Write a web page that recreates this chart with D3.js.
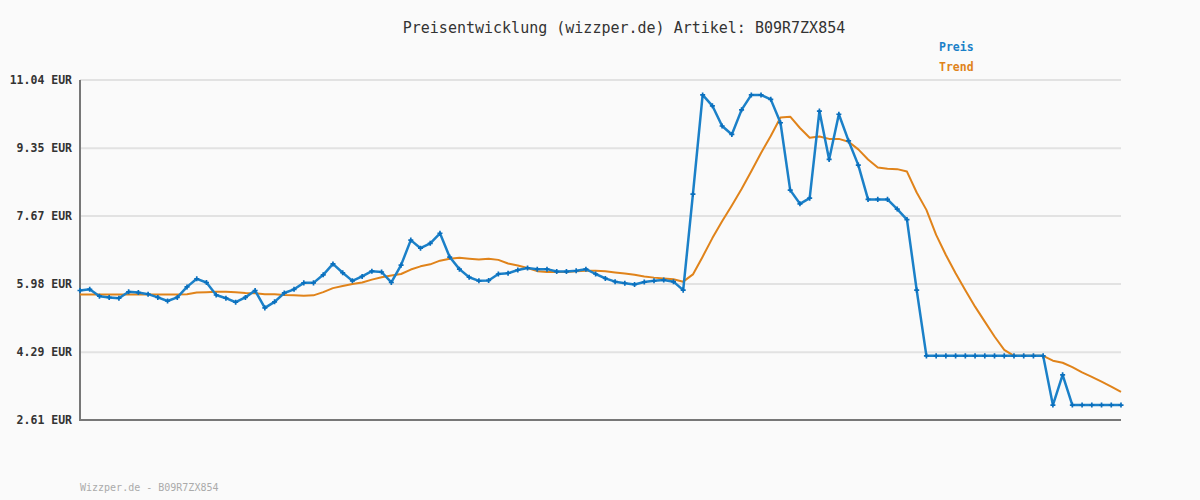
<!DOCTYPE html>
<html>
<head>
<meta charset="utf-8">
<script src="https://cdn.jsdelivr.net/npm/d3@7/dist/d3.min.js"></script>
<style>
  html, body { margin: 0; padding: 0; background: #fafafa; }
  svg { display: block; }
</style>
</head>
<body>
<div id="chart"></div>
<script>
// ---- data ----
const title = "Preisentwicklung (wizzper.de) Artikel: B09R7ZX854";
const footer = "Wizzper.de - B09R7ZX854";
const seriesNames = ["Preis", "Trend"];
const yTicks = [2.61, 4.29, 5.98, 7.67, 9.35, 11.04];

const preis = [
  5.82, 5.85, 5.68, 5.65, 5.63, 5.79, 5.77, 5.73, 5.65, 5.56,
  5.65, 5.91, 6.11, 6.02, 5.71, 5.63, 5.53, 5.65, 5.82, 5.39,
  5.54, 5.76, 5.85, 6.01, 6.01, 6.21, 6.48, 6.26, 6.06, 6.17,
  6.30, 6.28, 6.02, 6.45, 7.07, 6.87, 6.99, 7.24, 6.65, 6.35,
  6.15, 6.06, 6.07, 6.23, 6.25, 6.33, 6.38, 6.35, 6.35, 6.29,
  6.29, 6.31, 6.35, 6.23, 6.12, 6.04, 6.00, 5.97, 6.03, 6.06,
  6.08, 6.04, 5.83, 8.21, 10.67, 10.40, 9.90, 9.69, 10.30, 10.67,
  10.67, 10.56, 9.98, 8.31, 7.97, 8.11, 10.27, 9.07, 10.19, 9.53,
  8.93, 8.08, 8.08, 8.08, 7.84, 7.58, 5.83, 4.20, 4.20, 4.20,
  4.20, 4.20, 4.20, 4.20, 4.20, 4.20, 4.20, 4.20, 4.20, 4.20,
  2.98, 3.73, 2.98, 2.98, 2.98, 2.98, 2.98, 2.98
];

const trend = [
  5.72, 5.72, 5.72, 5.72, 5.72, 5.72, 5.72, 5.72, 5.72, 5.72,
  5.72, 5.73, 5.77, 5.78, 5.79, 5.79, 5.78, 5.76, 5.75, 5.73,
  5.73, 5.71, 5.70, 5.69, 5.70, 5.78, 5.88, 5.93, 5.98, 6.02,
  6.09, 6.15, 6.19, 6.23, 6.34, 6.42, 6.47, 6.56, 6.61, 6.63,
  6.61, 6.59, 6.61, 6.58, 6.49, 6.44, 6.38, 6.30, 6.28, 6.28,
  6.28, 6.30, 6.31, 6.31, 6.30, 6.27, 6.24, 6.21, 6.17, 6.14,
  6.12, 6.10, 6.04, 6.22, 6.66, 7.12, 7.54, 7.93, 8.34, 8.78,
  9.23, 9.65, 10.11, 10.13, 9.85, 9.61, 9.64, 9.58, 9.58, 9.51,
  9.32, 9.07, 8.87, 8.84, 8.83, 8.77, 8.25, 7.82, 7.20, 6.70,
  6.25, 5.83, 5.42, 5.05, 4.68, 4.35, 4.20, 4.20, 4.20, 4.20,
  4.08, 4.03, 3.92, 3.79, 3.68, 3.56, 3.44, 3.31
];

// ---- layout ----
const W = 1200, H = 500;
const margin = { left: 80, right: 79, top: 80, bottom: 80 };
const blue = "#1b80c8", blueDark = "#0a6fbd", orange = "#e0831a";
const mono = "'DejaVu Sans Mono', 'Liberation Mono', monospace";

const svg = d3.select("#chart").append("svg")
  .attr("width", W).attr("height", H);

svg.append("rect").attr("width", W).attr("height", H).attr("fill", "#fafafa");

const x = d3.scaleLinear()
  .domain([0, preis.length - 1])
  .range([margin.left, W - margin.right]);
const y = d3.scaleLinear()
  .domain([yTicks[0], yTicks[yTicks.length - 1]])
  .range([H - margin.bottom, margin.top]);

// gridlines
svg.append("g").selectAll("line").data(yTicks).join("line")
  .attr("x1", margin.left).attr("x2", W - margin.right)
  .attr("y1", d => y(d)).attr("y2", d => y(d))
  .attr("stroke", "#e2e2e2").attr("stroke-width", 2);

// y axis
const yAxis = d3.axisLeft(y).tickValues(yTicks)
  .tickFormat(d => d.toFixed(2) + " EUR").tickSize(0).tickPadding(8);
const gy = svg.append("g").attr("transform", `translate(${margin.left},0)`).call(yAxis);
gy.select(".domain").remove();
gy.selectAll("text")
  .attr("font-family", mono).attr("font-size", 11.5).attr("font-weight", "bold")
  .attr("fill", "#333");

// axis lines
svg.append("line")
  .attr("x1", margin.left).attr("x2", margin.left)
  .attr("y1", y(yTicks[yTicks.length - 1])).attr("y2", y(yTicks[0]) + 1)
  .attr("stroke", "#777").attr("stroke-width", 2);
svg.append("line")
  .attr("x1", margin.left - 1).attr("x2", W - margin.right)
  .attr("y1", y(yTicks[0])).attr("y2", y(yTicks[0]))
  .attr("stroke", "#777").attr("stroke-width", 2);

// trend line
svg.append("path").datum(trend)
  .attr("d", d3.line().x((d, i) => x(i)).y(d => y(d)))
  .attr("fill", "none").attr("stroke", orange).attr("stroke-width", 2)
  .attr("stroke-linejoin", "round");

// price line
svg.append("path").datum(preis)
  .attr("d", d3.line().x((d, i) => x(i)).y(d => y(d)))
  .attr("fill", "none").attr("stroke", blue).attr("stroke-width", 2.5)
  .attr("stroke-linejoin", "round");

// markers
svg.append("g").selectAll("path").data(preis).join("path")
  .attr("transform", (d, i) => `translate(${x(i)},${y(d)})`)
  .attr("d", d3.symbol().type(d3.symbolCross).size(14))
  .attr("fill", blueDark);

// title
svg.append("text")
  .attr("x", 624).attr("y", 33).attr("text-anchor", "middle")
  .attr("font-family", mono).attr("font-size", 15).attr("fill", "#333")
  .text(title);

// legend
const legendColors = [blue, orange];
svg.append("g").selectAll("text").data(seriesNames).join("text")
  .attr("x", 939).attr("y", (d, i) => 51 + i * 20)
  .attr("font-family", mono).attr("font-size", 11.5).attr("font-weight", "bold")
  .attr("fill", (d, i) => legendColors[i])
  .text(d => d);

// footer
svg.append("text")
  .attr("x", 80).attr("y", 491)
  .attr("font-family", mono).attr("font-size", 10).attr("fill", "#aaa")
  .text(footer);
</script>
</body>
</html>
